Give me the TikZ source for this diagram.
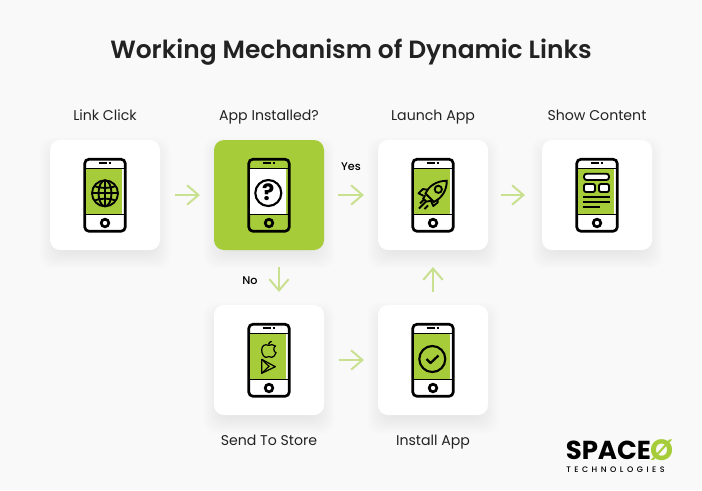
\documentclass[tikz,border=0pt]{standalone}
\usepackage{xcolor}
\usepackage{fontspec}
\usetikzlibrary{arrows.meta}
\setmainfont{Poppins}
\newfontfamily\medfont{Poppins}[UprightFont=* Medium]
\newfontfamily\semifont{Poppins}[UprightFont=* SemiBold]
\newfontfamily\logofont{Poppins}[UprightFont=* Medium,LetterSpace=44]
\definecolor{leaf}{HTML}{A6CD39}
\definecolor{pale}{HTML}{C8E08F}
\definecolor{paper}{HTML}{F9F9F9}
\definecolor{ink}{HTML}{222222}
\tikzset{
  card/.style={fill=white, minimum size=82.5pt, inner sep=0pt, outer sep=0pt, rounded corners=7.5pt},
  caption/.style={text=ink, font=\fontsize{10.6pt}{12pt}\selectfont, inner sep=0pt, anchor=base},
  answer/.style={text=black, font=\fontsize{8.4pt}{10pt}\medfont, inner sep=0pt},
  flow/.style={-{Straight Barb[length=8.5pt, width=14.5pt, line width=1.5pt]}, pale, line width=1.5pt},
  icon/.style={line width=1.4pt, black},
  thinicon/.style={line width=.9pt, black}
}
% soft shadow under a card
\newcommand{\cardshadow}[2]{
  \foreach \h in {47,48,...,66}
    \fill[black, opacity=.0045, rounded corners=9pt] ({#1-\h},{#2+8-\h}) rectangle ({#1+\h},{#2+8+\h});
}
% phone: x, y, screen colour, frame colour
\newcommand{\phoneshape}[4]{
  \begin{scope}[shift={(#1,#2)}]
    \draw[line width=2pt, black, fill=#4, rounded corners=3pt] (-20.2,-35.7) rectangle (20.2,36.2);
    \fill[#3] (-19,-26) rectangle (17.3,18.7);
    \draw[line width=1pt, black] (-19.5,-26.6) -- (19.5,-26.6);
    \draw[line width=1pt, black] (-19.5,19.4) -- (19.5,19.4);
    \draw[line width=1.5pt, black] (-6.3,-31.7) -- (2,-31.7);
    \draw[line width=1.5pt, black] (3.6,-31.7) -- (5.7,-31.7);
    \draw[line width=2pt, black] (0,28) circle (3.8);
  \end{scope}
}
\begin{document}
\begin{tikzpicture}[x=.75pt, y=-.75pt]
  \fill[paper] (0,0) rectangle (702,490);
  \useasboundingbox (0,0) rectangle (702,490);

  \node[text=ink, inner sep=0pt, font=\fontsize{18.7pt}{22pt}\semifont] (title) at (351,52) {Working Mechanism of Dynamic Links};

  \cardshadow{105}{195}
  \cardshadow{269}{195}
  \cardshadow{433}{195}
  \cardshadow{597}{195}
  \cardshadow{269}{360}
  \cardshadow{433}{360}

  \node[card] (linkclick) at (105,195) {};
  \node[card, fill=leaf] (appinstalled) at (269,195) {};
  \node[card] (launchapp) at (433,195) {};
  \node[card] (showcontent) at (597,195) {};
  \node[card] (sendstore) at (269,360) {};
  \node[card] (installapp) at (433,360) {};

  \node[caption] (linkclicktext) at (105,120) {Link Click};
  \node[caption] (appinstalledtext) at (269,120) {App Installed?};
  \node[caption] (launchapptext) at (433,120) {Launch App};
  \node[caption] (showcontenttext) at (597,120) {Show Content};
  \node[caption] (sendstoretext) at (269,445) {Send To Store};
  \node[caption] (installapptext) at (433,445) {Install App};

  \node[answer] (yes) at (351,167) {Yes};
  \node[answer] (no) at (250,281) {No};

  \draw[flow, shorten <=11pt, shorten >=10.5pt] (linkclick) -- (appinstalled);
  \draw[flow, shorten <=10.5pt, shorten >=10.5pt] (appinstalled) -- (launchapp);
  \draw[flow, shorten <=9.75pt, shorten >=12.75pt] (launchapp) -- (showcontent);
  \draw[flow, shorten <=11pt, shorten >=10.5pt] (sendstore) -- (installapp);
  \draw[flow, shorten <=13pt, shorten >=9.75pt] ([xshift=7.5pt]appinstalled.south) -- ([xshift=7.5pt]sendstore.north);
  \draw[flow, shorten <=9.75pt, shorten >=12.75pt] (installapp) -- (launchapp);

  \phoneshape{105}{195}{leaf}{white}
  \phoneshape{269}{195}{white}{leaf}
  \phoneshape{433}{195}{leaf}{white}
  \phoneshape{597}{195}{leaf}{white}
  \phoneshape{269}{360}{leaf}{white}
  \phoneshape{433}{360}{leaf}{white}

  % globe
  \draw[icon] (105,193.3) circle (13);
  \draw[icon] (105,193.3) ellipse (6.5 and 13);
  \draw[icon] (105,180.3) -- (105,206.3);
  \draw[icon] (92,193.3) -- (118,193.3);
  \draw[icon] (94.5,186) .. controls (100,188.5) and (110,188.5) .. (115.5,186);
  \draw[icon] (94.5,200.6) .. controls (100,198.1) and (110,198.1) .. (115.5,200.6);

  % question mark
  \draw[line width=1.6pt, black] (268.3,193) circle (13);
  \node[inner sep=0pt, text=black, font=\fontsize{17pt}{18pt}\bfseries] (question) at (268.3,192.5) {?};

  % rocket
  \begin{scope}[shift={(433,195)}]
    \draw[icon] (-7.5,-1.5) .. controls (-4,-9) and (3,-14) .. (13.7,-14.3) .. controls (14,-5) and (9,3) .. (.9,6.9) -- cycle;
    \draw[icon] (5.3,-5.7) circle (3.6);
    \draw[icon, line join=round] (-5.5,-5.2) -- (-10,-6) -- (-14.5,-1.7) -- (-9.5,.8);
    \draw[icon, line join=round] (4.4,4) -- (4.8,7.4) -- (.3,11) -- (-2.2,5.6);
    \draw[icon] (-7.8,.2) -- (-9.8,3.6) -- (-6.6,6.6) -- (-1.2,5.6);
    \draw[icon] (-13,8.5) -- (-9.2,4.7);
    \draw[icon] (-14,13.5) -- (-7.5,7);
    \draw[icon] (-8.5,14) -- (-5,10.5);
  \end{scope}

  % content layout
  \draw[icon, fill=white, rounded corners=2pt] (584,173.7) rectangle (609,180);
  \draw[icon, fill=white, rounded corners=1.5pt] (584,184) rectangle (595,192);
  \draw[icon, fill=white, rounded corners=1.5pt] (599,184) rectangle (609,192);
  \draw[icon] (582.7,197.3) -- (610,197.3);
  \draw[icon] (582.7,202.3) -- (610,202.3);
  \draw[icon] (582.7,207.3) -- (600,207.3);

  % store marks
  \draw[thinicon] (268.6,345.4) .. controls (265,343.6) and (261.7,345.5) .. (261.7,350) .. controls (261.7,354) and (264,357.3) .. (266,357.3) .. controls (267.4,357.3) and (268,356.6) .. (269,356.6) .. controls (270.2,356.6) and (270.8,357.3) .. (272,357.3) .. controls (273.6,357.3) and (275,355.2) .. (276,352.8) .. controls (273.4,351.8) and (273,347.4) .. (275.4,346) .. controls (273.6,344.4) and (270.8,344.2) .. (268.6,345.4);
  \draw[line width=1pt, black] (268.6,344.6) .. controls (268.6,342.8) and (269.8,341.8) .. (271.6,341.4);
  \draw[thinicon, line join=round] (261.7,359.3) -- (275.3,366.7) -- (261.7,373.3) -- cycle;
  \draw[thinicon] (261.7,359.3) -- (269,366.3) -- (261.7,373.3);

  % check mark
  \draw[line width=1.6pt, black] (432.3,359) circle (13);
  \draw[line width=1.7pt, black, line join=round] (426.5,359) -- (430.5,363) -- (438.5,355.5);

  % logo
  \node[anchor=west, inner sep=0pt, text=black, font=\fontsize{19.5pt}{20pt}\bfseries] (spacetext) at (565.5,450.5) {SPACE};
  \node[inner sep=0pt, text=leaf, font=\fontsize{22pt}{24pt}\bfseries] (zerotext) at (662,450.5) {Ø};
  \node[anchor=west, inner sep=0pt, text=black, font=\fontsize{6pt}{7pt}\logofont] (techtext) at (566,469.5) {TECHNOLOGIES};
\end{tikzpicture}
\end{document}
